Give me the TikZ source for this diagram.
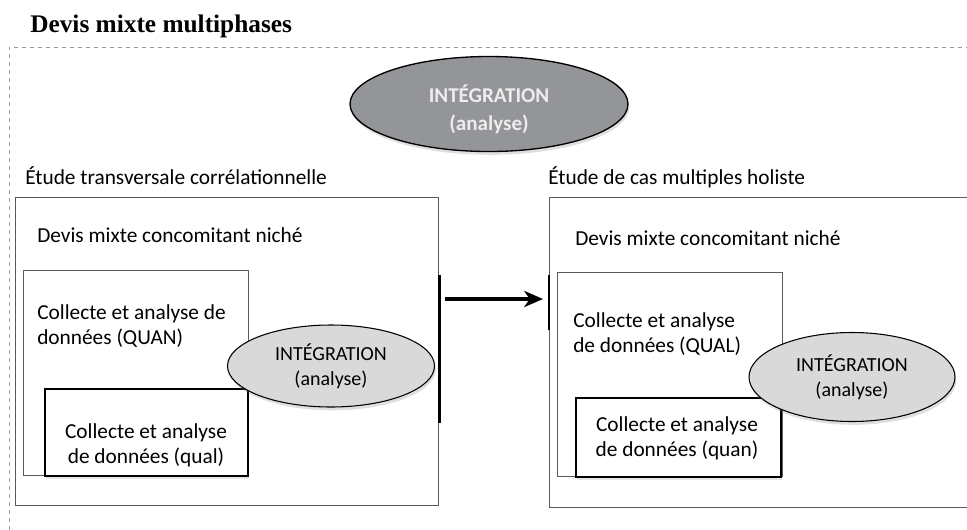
\documentclass[tikz,border=0pt]{standalone}
\usepackage{fontspec}
\setmainfont{Carlito}
\newfontfamily\titlefont{Liberation Serif}
\usetikzlibrary{shapes.geometric, arrows.meta, shadows, positioning}
\definecolor{DMframe}{HTML}{9C9C9C}
\definecolor{DMdark}{HTML}{939598}
\definecolor{DMlight}{HTML}{D9D9DA}
\definecolor{DMline}{HTML}{5A5A5A}
\definecolor{DMtext}{HTML}{EDEDED}

\begin{document}
\begin{tikzpicture}[x=0.75pt, y=-0.75pt,
      every node/.style={font=\fontsize{16}{19}\selectfont, inner sep=0pt},
      boxsize/.style 2 args={minimum width=#1*0.75pt, minimum height=#2*0.75pt},
      outerbox/.style={rectangle, draw=DMline, line width=0.8pt, anchor=north west},
      innerbox/.style={rectangle, draw=DMline, line width=0.8pt, fill=white, anchor=north west},
      nestbox/.style={rectangle, draw=black, line width=1.4pt, fill=white, anchor=north west,
                      drop shadow={opacity=0.2, shadow xshift=1pt, shadow yshift=-2pt}},
      integ/.style={ellipse, draw=black, line width=0.8pt, fill=DMlight, align=center,
                    font=\fontsize{15}{19}\selectfont,
                    drop shadow={opacity=0.25, shadow xshift=1pt, shadow yshift=-2.5pt}},
      label/.style={anchor=base west},
      bar/.style={line width=2.2pt, black},
      arr/.style={-{Stealth[length=14pt, width=12pt, inset=4pt]}, line width=3pt, black}]
      \useasboundingbox (0,0) rectangle (967,529);
      \clip (0,0) rectangle (967,529);
      % Dashed frame and title
      \draw[DMframe, dashed, line width=0.7pt] (970,47) -- (9,47) -- (9,532);
      \node[label, font=\titlefont\bfseries\fontsize{19}{22}\selectfont] (title) at (30,32) {Devis mixte multiphases};
      \node[integ, fill=DMdark, line width=1pt, boxsize={278}{95}] (top) at (489,104) {};
      \node[align=center, text=DMtext, font=\bfseries\fontsize{15.8}{21}\selectfont] (toptxt) at (489,109) {INTÉGRATION\\(analyse)};
      % Left phase: correlational study
      \node[label] (ltitle) at (25,184) {Étude transversale corrélationnelle};
      \node[outerbox, boxsize={423}{308}] (lout) at (15,197) {};
      \node[label] (ldev) at (37,242) {Devis mixte concomitant niché};
      \node[innerbox, boxsize={225}{205}] (quan) at (23,270) {};
      \node[anchor=west, align=left] (quantxt) at (37,326) {Collecte et analyse de\\données (QUAN)};
      \node[nestbox, boxsize={203}{87}] (qual) at (44,388) {};
      \node[align=center] (qualtxt) at (146,445) {Collecte et analyse\\de données (qual)};
      \node[integ, boxsize={207}{82}] (lint) at (331,366) {INTÉGRATION\\(analyse)};
      % Right phase: multiple case study
      \node[label] (rtitle) at (548,184) {Étude de cas multiples holiste};
      \node[outerbox, boxsize={440}{310}] (rout) at (549,197) {};
      \node[label] (rdev) at (575,245) {Devis mixte concomitant niché};
      \node[innerbox, boxsize={225}{204}] (QUAL) at (557,272) {};
      \node[anchor=west, align=left] (QUALtxt) at (573,334) {Collecte et analyse\\de données (QUAL)};
      \node[nestbox, boxsize={205}{79}] (qn) at (575,397) {};
      \node[align=center] (qntxt) at (677,438) {Collecte et analyse\\de données (quan)};
      \node[integ, boxsize={206}{89}] (rint) at (852,377) {INTÉGRATION\\(analyse)};
      % Link between phases
      \draw[bar] (lout.north east |- 0,275) -- (lout.north east |- 0,423);
      \draw[bar] (rout.north west |- 0,275) -- (rout.north west |- 0,330);
      \coordinate (arrS) at (445,299);
      \coordinate (arrE) at (543,299);
      \draw[arr] (arrS) -- (arrE);
   \end{tikzpicture}
\end{document}
